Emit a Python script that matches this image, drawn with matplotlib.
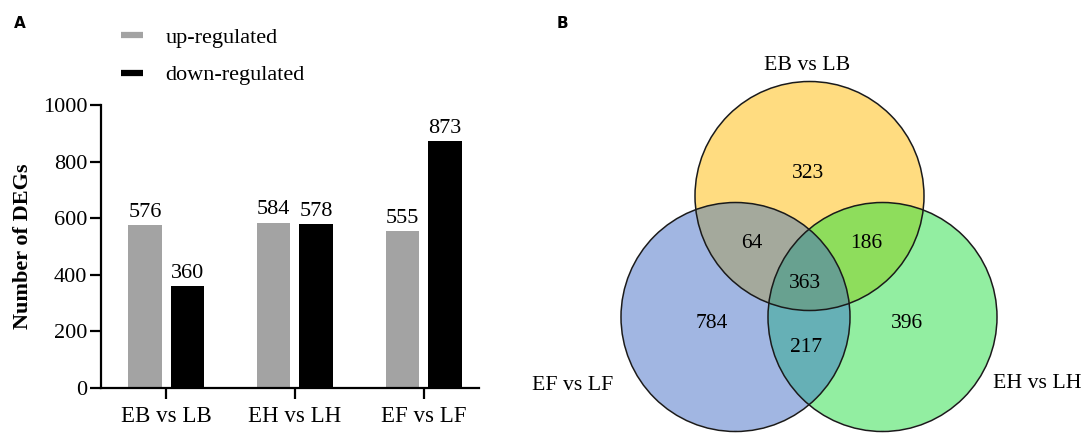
import numpy as np
import matplotlib
matplotlib.use("Agg")
from matplotlib import pyplot as plt
from matplotlib.patches import Circle
from matplotlib.lines import Line2D

plt.rcParams['font.family'] = ['Liberation Serif', 'DejaVu Serif']

# panel A data
comparisons = ["EB vs LB", "EH vs LH", "EF vs LF"]
up_regulated = [576, 584, 555]
down_regulated = [360, 578, 873]
series_names = ["up-regulated", "down-regulated"]
series_colors = ["#a3a3a3", "#000000"]

# panel B data (regions of the Venn diagram)
venn_sets = ["EB vs LB", "EH vs LH", "EF vs LF"]
region_keys = ["100", "010", "001", "110", "101", "011", "111"]
region_counts = [323, 396, 784, 186, 64, 217, 363]

W, H = 1084, 441
fig = plt.figure(figsize=(W / 100, H / 100), dpi=100)

# ---------------- panel A ----------------
ax = fig.add_axes([101 / W, 1 - 388 / H, 378 / W, 283 / H])
x = np.arange(len(comparisons))
bw, off = 0.26, 0.165
b1 = ax.bar(x - off, up_regulated, bw, color=series_colors[0])
b2 = ax.bar(x + off, down_regulated, bw, color=series_colors[1])
for bars, vals in ((b1, up_regulated), (b2, down_regulated)):
    for rect, v in zip(bars, vals):
        ax.text(rect.get_x() + rect.get_width() / 2, v + 12, str(v),
                ha='center', va='bottom', fontsize=16)

ax.set_xlim(-0.506, 2.43)
ax.set_ylim(0, 1000)
ax.set_yticks(range(0, 1001, 200))
ax.set_xticks(x)
ax.set_xticklabels(comparisons)
ax.tick_params(axis='both', labelsize=16, width=1.6, length=8, direction='out')
ax.tick_params(axis='y', pad=2)
ax.tick_params(axis='x', labelsize=16.5, pad=5)
for s in ('top', 'right'):
    ax.spines[s].set_visible(False)
for s in ('left', 'bottom'):
    ax.spines[s].set_linewidth(1.6)
ax.set_ylabel("Number of DEGs", fontsize=16, fontweight='bold', labelpad=7)

handles = [Line2D([], [], color=c, lw=4.5, solid_capstyle='butt') for c in series_colors]
ax.legend(handles, series_names, loc='upper left', frameon=False, fontsize=16,
          bbox_to_anchor=(121 / W, 1 - 27 / H), bbox_transform=fig.transFigure,
          borderpad=0, borderaxespad=0, handlelength=1.0, handletextpad=1.0,
          labelspacing=0.78)

fig.text(20 / W, 1 - 23 / H, "A", family='DejaVu Sans', fontweight='bold',
         fontsize=11, ha='center', va='center')
fig.text(562 / W, 1 - 23 / H, "B", family='DejaVu Sans', fontweight='bold',
         fontsize=11, ha='center', va='center')

# ---------------- panel B ----------------
bx = fig.add_axes([500 / W, 0, (W - 500) / W, 1])
bx.set_xlim(500, W)
bx.set_ylim(H, 0)
bx.axis('off')

r = 114.5
centers = [(809.5, 196), (882.5, 317), (735.5, 317)]  # EB, EH, EF
region_colors = {
    "100": "#ffdc80", "010": "#92eea2", "001": "#a2b6e2",
    "110": "#8ede5c", "101": "#a4aa9c", "011": "#66b0b6", "111": "#68a290",
}

gx = np.linspace(500, W, (W - 500) * 2)
gy = np.linspace(0, H, H * 2)
X, Y = np.meshgrid(gx, gy)
masks = [(X - cx) ** 2 + (Y - cy) ** 2 <= r ** 2 for cx, cy in centers]
img = np.ones(X.shape + (4,))
img[..., 3] = 0
for key, col in region_colors.items():
    m = np.ones(X.shape, bool)
    for bit, mk in zip(key, masks):
        m &= mk if bit == "1" else ~mk
    img[m] = matplotlib.colors.to_rgba(col)
bx.imshow(img, extent=(500, W, H, 0), interpolation='bilinear', zorder=1)
for cx, cy in centers:
    bx.add_patch(Circle((cx, cy), r, fill=False, ec='#1a1a1a', lw=1.1, zorder=2))

region_pos = {"100": (808, 173), "010": (907, 323), "001": (712, 323),
              "110": (866, 243), "101": (752, 243), "011": (806, 347),
              "111": (805, 283)}
for key, n in zip(region_keys, region_counts):
    bx.text(*region_pos[key], str(n), ha='center', va='center', fontsize=15.5, zorder=3)

set_pos = [(807, 66), (1037, 383), (573, 385)]
for name, (px, py) in zip(venn_sets, set_pos):
    bx.text(px, py, name, ha='center', va='center', fontsize=15.7, zorder=3)

fig.savefig("out.png", dpi=100)
